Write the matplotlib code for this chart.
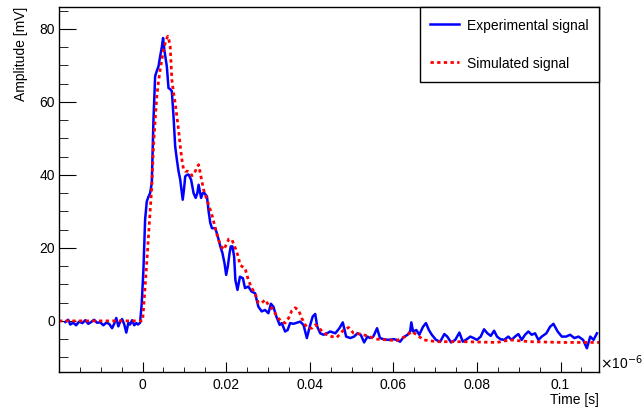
"""
Experimental vs simulated signal, ROOT-like styling with matplotlib.
Time values are stored in units of 1e-6 s (the axis shows the x10^-6 factor).
"""

import numpy as np
import matplotlib
matplotlib.use("Agg")
import matplotlib.pyplot as plt
from matplotlib.ticker import MultipleLocator, FuncFormatter

plt.rcParams['font.family'] = ['Liberation Sans', 'DejaVu Sans']

# experimental signal (time in 1e-6 s, amplitude in mV)
exp_t = [
    -0.0185, -0.0178, -0.0173, -0.0166, -0.0159, -0.0152, -0.0144, -0.0137,
    -0.0130, -0.0123, -0.0116, -0.0109, -0.0101, -0.0094, -0.0087, -0.0080,
    -0.0073, -0.0068, -0.0063, -0.0058, -0.0054, -0.0049, -0.0044, -0.0039,
    -0.0034, -0.0030, -0.0025, -0.0020, -0.0015, -0.0011, -0.0006,
    -0.0002, 0.0002, 0.0006, 0.0010, 0.0014, 0.0018, 0.0022, 0.0026, 0.0030,
    0.0034, 0.0038, 0.0042, 0.0046, 0.0049, 0.0052, 0.0055, 0.0058, 0.0062,
    0.0066, 0.0070, 0.0074, 0.0078, 0.0082, 0.0086, 0.0090, 0.0096, 0.0099,
    0.0102, 0.0106, 0.0110, 0.0116, 0.0122, 0.0127, 0.0131, 0.0134, 0.0137,
    0.0140, 0.0144, 0.0148, 0.0154, 0.0158, 0.0162, 0.0166, 0.0174, 0.0180,
    0.0186, 0.0191, 0.0196, 0.0200, 0.0204, 0.0208, 0.0211, 0.0215, 0.0219,
    0.0222, 0.0227, 0.0233, 0.0240, 0.0245, 0.0253, 0.0261, 0.0269, 0.0277,
    0.0285, 0.0293, 0.0301, 0.0307, 0.0313, 0.0320, 0.0328, 0.0333, 0.0341,
    0.0347, 0.0353, 0.0361, 0.0369, 0.0377, 0.0385, 0.0393, 0.0401, 0.0407,
    0.0413, 0.0418, 0.0425, 0.0433, 0.0441,
    0.0449, 0.0461, 0.0471, 0.0479, 0.0487, 0.0497, 0.0506, 0.0514, 0.0522,
    0.0530, 0.0538, 0.0544, 0.0552, 0.0561, 0.0568, 0.0576, 0.0588, 0.0600,
    0.0608, 0.0616, 0.0624, 0.0634, 0.0640, 0.0643, 0.0647, 0.0655, 0.0662,
    0.0671, 0.0678, 0.0685, 0.0692, 0.0702, 0.0712, 0.0722, 0.0729, 0.0738,
    0.0748, 0.0758, 0.0766, 0.0776, 0.0784, 0.0792, 0.0800, 0.0809, 0.0817,
    0.0825, 0.0833, 0.0841, 0.0848, 0.0856, 0.0865, 0.0875, 0.0883, 0.0891,
    0.0899, 0.0907, 0.0915, 0.0923, 0.0931, 0.0939, 0.0947, 0.0955, 0.0966,
    0.0975, 0.0983, 0.0993, 0.1003, 0.1013, 0.1023, 0.1033, 0.1043, 0.1054,
    0.1063, 0.1071, 0.1079, 0.1087,
]
exp_mv = [
    -0.3, 0.3, -1.0, -0.5, -1.2, -0.2, -0.6, 0.2,
    -0.8, -0.3, 0.3, -0.5, -0.4, -1.2, -0.5, -0.8,
    -2.0, -0.8, 0.8, -1.5, -0.3, 0.5, -0.9, -3.2,
    -0.5, -1.0, 0.2, -1.2, -0.6, -1.0, -0.5,
    4.9, 14.0, 27.7, 32.7, 34.0, 35.0, 37.8, 55.0, 67.0,
    68.5, 69.7, 72.5, 75.0, 77.5, 74.3, 72.0, 69.7, 63.8,
    63.5, 62.9, 56.0, 47.8, 44.2, 41.0, 38.7, 33.2, 36.0,
    39.6, 40.0, 40.1, 38.7, 35.0, 33.7, 35.0, 37.3, 35.5,
    33.7, 35.0, 35.0, 34.1, 30.0, 26.8, 25.4, 25.4, 23.1,
    20.4, 18.6, 15.8, 12.6, 15.0, 18.5, 20.4, 20.4, 17.6,
    11.2, 8.5, 12.1, 11.7, 9.0, 9.4, 8.0, 7.6, 3.9,
    2.6, 3.0, 2.1, 4.7, 3.9, 1.2, -1.1, -0.6, -2.9,
    -2.5, -0.6, -0.8, -0.5, -0.2, -1.1, -4.7, -1.1, 1.2,
    1.9, -1.6, -3.4, -3.8, -3.4,
    -2.9, -3.4, -2.0, -0.4, -4.3, -4.7, -4.3, -3.4, -3.8,
    -5.9, -4.3, -4.7, -4.3, -2.0, -4.7, -5.0, -5.2, -5.0,
    -5.2, -5.7, -4.5, -3.8, -2.9, -0.4, -2.9, -2.5, -3.8,
    -1.6, -0.6, -2.5, -3.8, -5.2, -5.7, -3.6, -4.3, -5.9,
    -5.2, -3.2, -5.7, -5.0, -4.3, -4.7, -5.2, -4.3, -2.3,
    -3.4, -4.1, -2.7, -4.3, -5.0, -5.2, -4.3, -5.2, -4.3,
    -3.6, -5.2, -3.8, -2.9, -3.8, -3.4, -5.2, -4.3, -3.4,
    -1.6, -0.8, -2.9, -4.3, -4.3, -3.8, -4.7, -4.3, -5.2,
    -7.5, -4.3, -5.2, -3.4,
]

# simulated signal
sim_t = [
    -0.0200, -0.0100, 0.0000, 0.0002, 0.0006, 0.0010, 0.0014, 0.0018, 0.0022,
    0.0026, 0.0030, 0.0034, 0.0038, 0.0042, 0.0046, 0.0050, 0.0055, 0.0060,
    0.0063, 0.0066, 0.0070, 0.0074, 0.0078, 0.0082, 0.0086, 0.0090, 0.0094,
    0.0098, 0.0102, 0.0108, 0.0114, 0.0118, 0.0122, 0.0126, 0.0130, 0.0134,
    0.0138, 0.0142, 0.0146, 0.0150, 0.0154, 0.0158, 0.0162, 0.0167, 0.0172,
    0.0178, 0.0186, 0.0194, 0.0198, 0.0202, 0.0206, 0.0210, 0.0214, 0.0217,
    0.0222, 0.0226, 0.0229, 0.0233, 0.0238, 0.0245, 0.0253, 0.0261, 0.0269,
    0.0277, 0.0285, 0.0293, 0.0301, 0.0309, 0.0317, 0.0325, 0.0333, 0.0341,
    0.0349, 0.0357, 0.0365, 0.0373, 0.0381, 0.0389, 0.0397, 0.0405, 0.0413,
    0.0421, 0.0429, 0.0441, 0.0453, 0.0465, 0.0473, 0.0481, 0.0493, 0.0505,
    0.0521, 0.0537, 0.0561, 0.0584, 0.0608, 0.0628, 0.0644, 0.0656, 0.0672,
    0.0704, 0.0768, 0.0848, 0.0879, 0.0927, 0.1006, 0.1092,
]
sim_mv = [
    0.0, 0.0, 0.0, 3.0, 9.4, 16.0, 23.1, 30.0, 36.8,
    47.8, 55.0, 61.5, 65.5, 68.8, 71.5, 74.3, 76.5, 78.0,
    77.0, 75.3, 66.1, 62.5, 59.7, 56.0, 52.4, 48.0, 44.2,
    41.5, 41.0, 41.0, 40.5, 39.8, 40.0, 41.0, 42.0, 42.8,
    40.5, 38.2, 35.9, 34.5, 33.2, 31.8, 30.4, 28.6, 26.3,
    23.6, 20.8, 19.5, 20.4, 21.3, 22.4, 22.4, 22.2, 21.3,
    19.9, 18.6, 17.6, 15.4, 14.9, 14.5, 11.2, 9.0, 7.6,
    4.9, 4.9, 5.8, 4.4, 3.5, 2.1, 0.7, -0.2, -0.6,
    0.7, 2.8, 3.6, 3.0, 0.7, -1.1, -2.0, -2.0, -1.1,
    -1.6, -2.9, -3.8, -4.3, -4.5, -3.5, -2.5, -1.8, -3.4,
    -3.6, -4.1, -5.0, -5.2, -5.4, -4.3, -2.9, -3.8, -5.2,
    -5.7, -5.7, -5.9, -5.2, -5.7, -5.9, -5.9,
]

x_major = [0.0, 0.02, 0.04, 0.06, 0.08, 0.1]


def main():
    fig = plt.figure(figsize=(6.44, 4.09), dpi=100)
    ax = fig.add_axes([59 / 644, 37 / 409, 540 / 644, 365 / 409])

    ax.plot(exp_t, exp_mv, color='#0000ff', lw=1.8, label='Experimental signal')
    ax.plot(sim_t, sim_mv, color='#ff0000', lw=2.0, ls=(0, (1.2, 1.2)),
            label='Simulated signal')

    ax.set_xlim(-0.02, 0.1092)
    ax.set_ylim(-14, 86)

    ax.set_xticks(x_major)
    ax.xaxis.set_major_formatter(FuncFormatter(lambda v, p: '%g' % round(v, 4)))
    ax.xaxis.set_minor_locator(MultipleLocator(0.005))
    ax.yaxis.set_major_locator(MultipleLocator(20))
    ax.yaxis.set_minor_locator(MultipleLocator(5))

    ax.tick_params(axis='both', which='both', direction='in',
                   top=False, right=False, labelsize=10)
    ax.tick_params(axis='x', which='major', length=7.5, pad=4)
    ax.tick_params(axis='x', which='minor', length=3.6)
    ax.tick_params(axis='y', which='major', length=12, pad=3)
    ax.tick_params(axis='y', which='minor', length=6.5)
    for sp in ax.spines.values():
        sp.set_linewidth(1.0)

    ax.set_ylabel('Amplitude [mV]', loc='top', fontsize=10, labelpad=8)
    ax.set_xlabel('Time [s]', loc='right', fontsize=10, labelpad=1)
    ax.text(1.001, 0.0, r'$\times$10$^{-6}$', transform=ax.transAxes,
            ha='left', va='bottom', fontsize=10)

    leg = ax.legend(loc='upper right', bbox_to_anchor=(1.0, 1.0),
                    borderaxespad=0, fancybox=False, framealpha=1,
                    edgecolor='black', fontsize=10, handlelength=2.05,
                    handleheight=1.4, handletextpad=0.6,
                    labelspacing=1.6, borderpad=0.75)
    leg.get_frame().set_linewidth(1.0)

    fig.savefig('out.png', dpi=100)


if __name__ == "__main__":
    main()
